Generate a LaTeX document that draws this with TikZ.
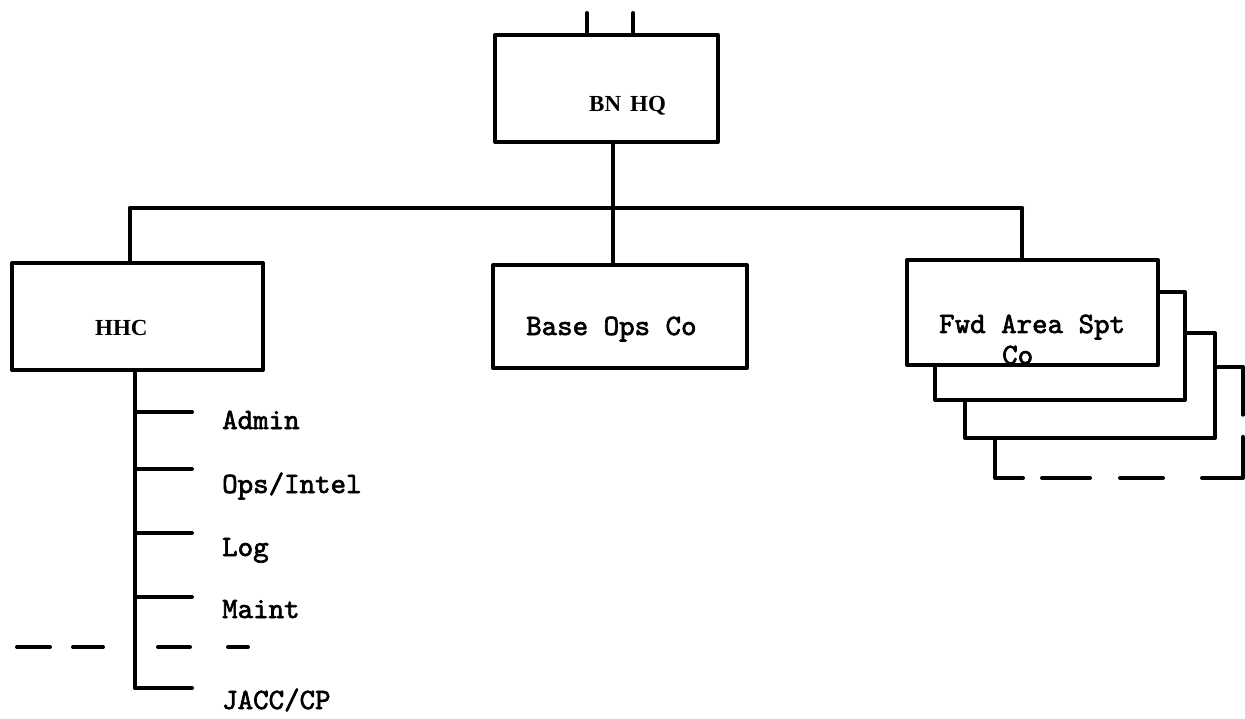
\documentclass[tikz,border=0pt]{standalone}
\usepackage{fontspec}
\usetikzlibrary{calc}
\setmainfont{Liberation Serif}
\newfontfamily\capfont{Liberation Serif Bold}
\newfontfamily\typefont{lmmono10-regular}[Extension=.otf, FakeBold=2.2]
\begin{document}
\begin{tikzpicture}[x=1pt,y=-1pt,
  ln/.style={line width=4pt, line cap=round, line join=round},
  box/.style={ln, draw, fill=white, rectangle, inner sep=0pt, outer sep=0pt},
  tw/.style={font=\typefont\fontsize{29.5}{29.5}\selectfont, anchor=base west, inner sep=0pt},
  sr/.style={font=\capfont\fontsize{23}{23}\selectfont, anchor=base west, inner sep=0pt}]
\useasboundingbox (0,0) rectangle (1245,719);

% battalion headquarters
\node[box, minimum width=223pt, minimum height=107pt] (hq) at (606.5,88.5) {};
\node[sr] (hqtext) at (589,112) {BN\hspace{9pt}HQ};
\coordinate (t1) at (587,13);
\coordinate (t2) at (633,13);
\draw[ln] (t1) -- (t1 |- hq.north);
\draw[ln] (t2) -- (t2 |- hq.north);

% companies
\node[box, minimum width=251pt, minimum height=107pt] (hhc) at (137.5,316.5) {};
\node[sr] (hhctext) at (95,335) {HHC};
\node[box, minimum width=254pt, minimum height=103pt] (base) at (620,316.5) {};
\node[tw] (basetext) at (526,335) {Base Ops Co};

% stacked forward area support companies
\node[box, minimum width=250pt, minimum height=105pt] (fwd3) at (1090,385.5) {};
\node[box, minimum width=250pt, minimum height=108pt] (fwd2) at (1060,346) {};
\node[box, minimum width=251pt, minimum height=105pt] (fwd) at (1032.5,312.5) {};
\node[tw] (fwdtext) at (939,333) {Fwd Area Spt};
\node[tw] (fwdco) at (1002,364) {Co};

% open-ended fourth company outline
\coordinate (d1) at (1215,367);
\coordinate (d2) at (1243,367);
\coordinate (d3) at (1243,478);
\coordinate (d4) at (995,478);
\coordinate (d5) at (995,438);
\draw[ln] (d1) -- (d2) -- ($(d2)!0.43!(d3)$);
\draw[ln] ($(d2)!0.63!(d3)$) -- (d3) -- (1202,478);
\draw[ln] (1163,478) -- (1120,478);
\draw[ln] (1090,478) -- (1042,478);
\draw[ln] (1023,478) -- (d4) -- (d5);

% bus from headquarters to companies
\coordinate (busL) at (130,208);
\coordinate (busM) at (613,208);
\coordinate (busR) at (1022,208);
\draw[ln] (busM |- hq.south) -- (busM);
\draw[ln] (busL) -- (busR);
\draw[ln] (busL) -- (busL |- hhc.north);
\draw[ln] (busM) -- (busM |- base.north);
\draw[ln] (busR) -- (busR |- fwd.north);

% HHC sections
\coordinate (sp) at (135,688);
\draw[ln] (sp |- hhc.south) -- (sp);
\foreach \name/\yy in {s1/412, s2/469, s3/533, s4/597, s5/688} {
  \coordinate (\name a) at (135,\yy);
  \coordinate (\name b) at (192,\yy);
  \draw[ln] (\name a) -- (\name b);
}
\draw[ln] (17,647) -- (50,647);
\draw[ln] (73,647) -- (103,647);
\draw[ln] (158,647) -- (190,647);
\draw[ln] (228,647) -- (248,647);

\node[tw] (l1) at (222,429) {Admin};
\node[tw] (l2) at (222,493) {Ops/Intel};
\node[tw] (l3) at (222,556) {Log};
\node[tw] (l4) at (222,618) {Maint};
\node[tw] (l5) at (222,709) {JACC/CP};
\end{tikzpicture}
\end{document}
